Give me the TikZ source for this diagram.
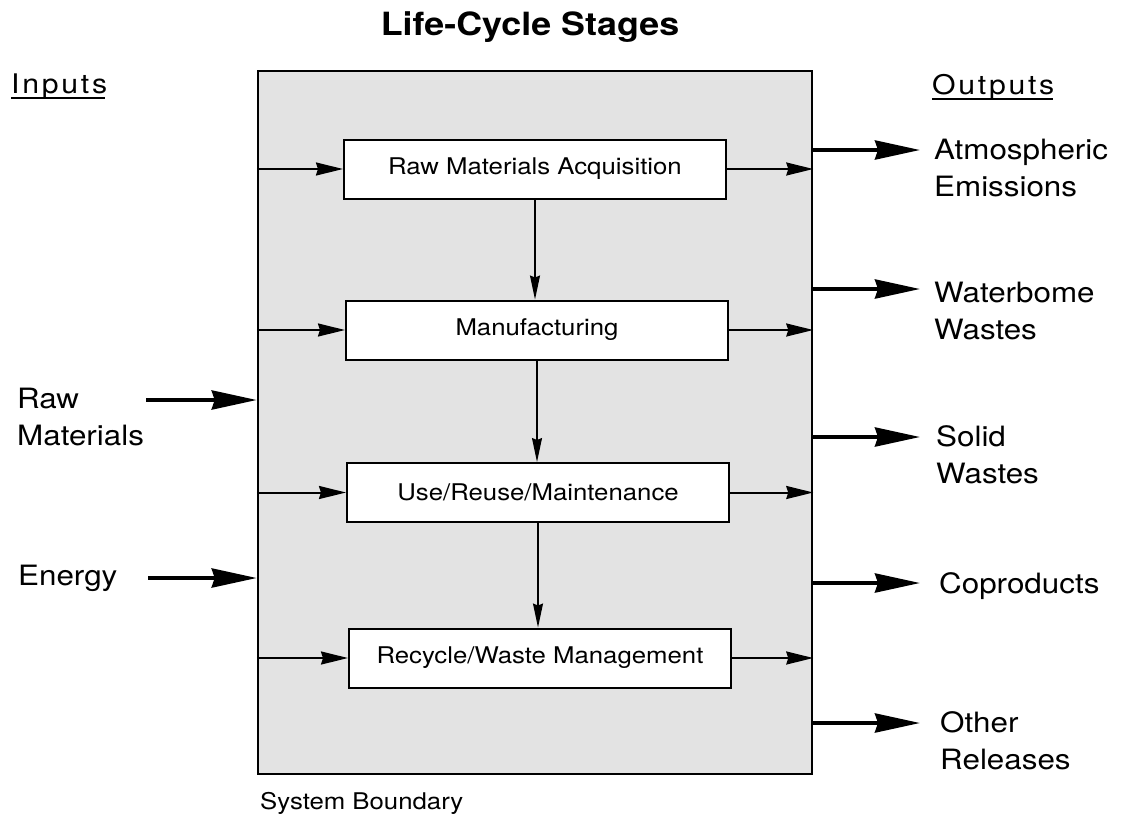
\documentclass[tikz,border=0pt]{standalone}
\usepackage{fontspec}
\setmainfont{TeX Gyre Heros}[FakeStretch=1.12]
\newfontfamily\spacedfont{TeX Gyre Heros}[FakeStretch=1.12,LetterSpace=10]
\usetikzlibrary{arrows.meta}
\begin{document}
\begin{tikzpicture}[x=1pt,y=-1pt,
  boundary/.style={draw,line width=2.5pt,fill=gray!22,minimum width=554pt,minimum height=703pt,inner sep=0pt},
  stagebox/.style={draw,line width=2pt,fill=white,minimum width=382pt,minimum height=59pt,inner sep=0pt,font=\fontsize{23}{27}\selectfont},
  bigarrow/.style={line width=3.8pt,-{Stealth[length=45pt,width=19pt,inset=3pt]}},
  smallarrow/.style={line width=2pt,-{Stealth[length=27pt,width=13pt,inset=2pt]}},
  thinarrow/.style={line width=1.2pt,-{Stealth[length=24pt,width=10pt,inset=2pt]}},
  lbl/.style={anchor=base west,align=left,inner sep=0pt,font=\fontsize{28}{36.5}\selectfont},
  head/.style={anchor=base west,inner sep=0pt,font=\fontsize{27}{30}\spacedfont},
]
\useasboundingbox (0,0) rectangle (1121,820);

% title
\node[anchor=base,inner sep=0pt,font=\fontsize{32}{38}\bfseries] (title) at (530,35) {Life-Cycle Stages};

% headings
\node[head] (inp) at (11,93) {Inputs};
\node[head] (outp) at (932,94) {Outputs};
\draw[line width=2pt] ([yshift=-5pt]inp.base west) -- ([yshift=-5pt,xshift=-2pt]inp.base east);
\draw[line width=2pt] ([yshift=-5pt]outp.base west) -- ([yshift=-5pt,xshift=-2pt]outp.base east);

% system boundary
\node[boundary] (bnd) at (535,422.5) {};
\node[anchor=base west,inner sep=0pt,font=\fontsize{23}{27}\selectfont] (sb) at (260,809) {System Boundary};

% stages
\node[stagebox] (rma) at (535,169) {Raw Materials Acquisition};
\node[stagebox] (mfg) at (537,330) {Manufacturing};
\node[stagebox] (use) at (538,492.5) {Use/Reuse/Maintenance};
\node[stagebox] (rec) at (540,658) {Recycle/Waste Management};

\draw[thinarrow] (rma.south) -- (rma.south |- mfg.north);
\draw[thinarrow] (mfg.south) -- (mfg.south |- use.north);
\draw[thinarrow] (use.south) -- (use.south |- rec.north);

\foreach \s in {rma,mfg,use,rec}{
  \draw[smallarrow] (bnd.west |- \s.west) -- (\s.west);
  \draw[smallarrow] (\s.east) -- (bnd.east |- \s.east);
}

% inputs
\node[lbl] (raw) at (17,445) {Raw\\Materials};
\node[lbl] (energy) at (18,585) {Energy};
\coordinate (rawtail) at (146,400);
\coordinate (entail) at (148,578);
\draw[bigarrow] (rawtail) -- (bnd.west |- rawtail);
\draw[bigarrow] (entail) -- (bnd.west |- entail);

% outputs
\coordinate (oatm) at (920,150);
\coordinate (owat) at (920,289);
\coordinate (osol) at (920,437);
\coordinate (ocop) at (920,583);
\coordinate (ooth) at (920,723);
\foreach \c in {oatm,owat,osol,ocop,ooth}{
  \draw[bigarrow] (bnd.east |- \c) -- (\c);
}
\node[lbl] (atm) at (934,196) {Atmospheric\\Emissions};
\node[lbl] (wat) at (934,339) {Waterbome\\Wastes};
\node[lbl] (sol) at (936,483) {Solid\\Wastes};
\node[lbl] (cop) at (939,593) {Coproducts};
\node[lbl] (oth) at (940,769) {Other\\Releases};
\end{tikzpicture}
\end{document}
